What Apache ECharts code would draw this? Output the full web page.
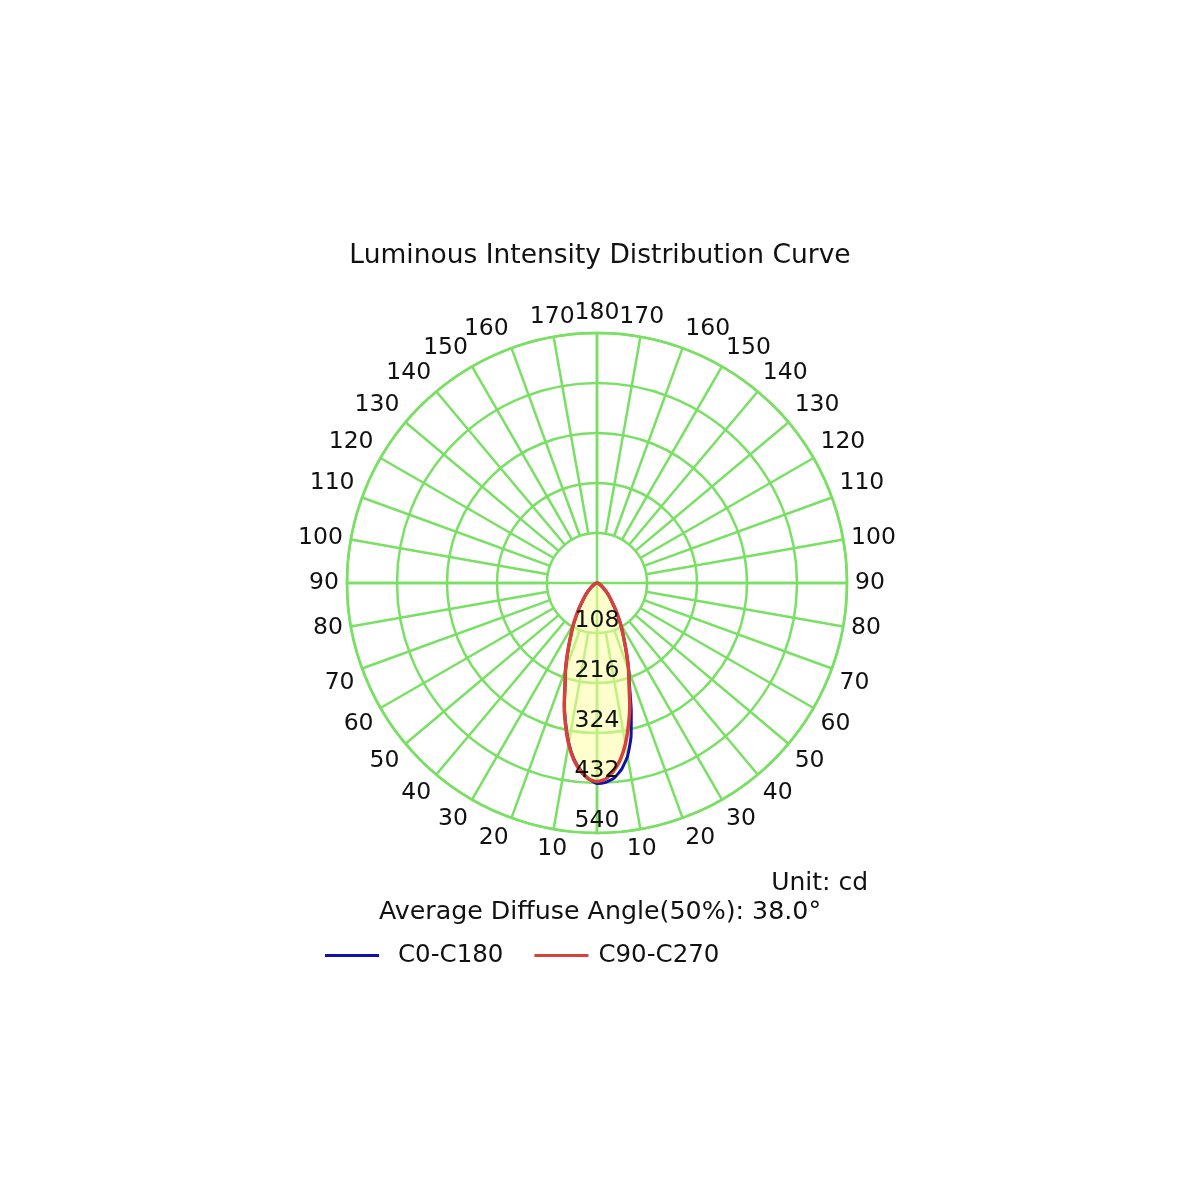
<!DOCTYPE html>
<html>
<head>
<meta charset="utf-8">
<script src="https://cdn.jsdelivr.net/npm/echarts@6/dist/echarts.min.js"></script>
<style>
html,body{margin:0;padding:0;background:#fff;}
#chart{width:1200px;height:1200px;}
</style>
</head>
<body>
<div id="chart"></div>
<script>
// Half-plane angles (degrees from nadir) and intensities (cd)
const halfAngles = [0, 2.5, 5, 7.5, 10, 12.5, 15, 17.5, 20, 22.5, 25, 27.5, 30, 35, 40, 45, 50, 55, 60, 65, 70, 75, 80, 85, 90];
const c0Values   = [433, 431, 423, 406, 380, 340, 286, 234, 200, 168, 141, 119, 101, 69, 46, 33, 21, 14, 9, 6, 4, 2, 1, 0, 0];
const c180Values = [433, 423, 406, 383, 351, 312, 272, 229, 198, 167, 140, 118, 100, 68, 45, 32, 21, 14, 9, 6, 4, 2, 1, 0, 0];
const c90Values  = [429, 424, 408, 385, 353, 314, 274, 230, 199, 168, 141, 119, 101, 69, 46, 33, 21, 14, 9, 6, 4, 2, 1, 0, 0];
const c270Values = [429, 424, 408, 385, 353, 314, 274, 230, 199, 168, 141, 119, 101, 69, 46, 33, 21, 14, 9, 6, 4, 2, 1, 0, 0];
const radiusTicks = [108, 216, 324, 432, 540];
const seriesNames = ['C0-C180', 'C90-C270'];
const titleText = 'Luminous Intensity Distribution Curve';
const unitText = 'Unit: cd';
const angleText = 'Average Diffuse Angle(50%): 38.0°';

const GRID = '#78e062';
const FONT = 'DejaVu Sans';

function buildCurve(rightVals, leftVals) {
  const pts = [];
  for (let i = halfAngles.length - 1; i >= 1; i--) pts.push([rightVals[i], 360 - halfAngles[i]]);
  pts.push([rightVals[0], 0]);
  for (let i = 1; i < halfAngles.length; i++) pts.push([leftVals[i], halfAngles[i]]);
  return pts;
}

const chart = echarts.init(document.getElementById('chart'));
const center = [597, 583];
const rMax = radiusTicks[radiusTicks.length - 1];
const rStep = radiusTicks[0];

chart.setOption({
  backgroundColor: '#fff',
  animation: false,
  textStyle: { fontFamily: FONT },
  title: [
    { text: titleText, left: 'center', top: 238, textStyle: { fontSize: 26.5, fontWeight: 'normal', color: '#111', fontFamily: FONT } },
    { text: unitText, right: 327, top: 866, textStyle: { fontSize: 25, fontWeight: 'normal', color: '#111', fontFamily: FONT } },
    { text: angleText, left: 'center', top: 895, textStyle: { fontSize: 25.3, fontWeight: 'normal', color: '#111', fontFamily: FONT } }
  ],
  legend: {
    data: [
      { name: seriesNames[0], textStyle: { padding: [0, 0, 0, 14] } },
      { name: seriesNames[1], textStyle: { padding: [0, 0, 0, 5] } }
    ],
    left: 320, top: 938,
    icon: 'rect', itemWidth: 54, itemHeight: 3, itemGap: 31,
    selectedMode: false,
    textStyle: { fontSize: 24.5, color: '#111', fontFamily: FONT }
  },
  polar: [
    { center: center, radius: [50, 250] },
    { center: center, radius: 250 }
  ],
  angleAxis: [
    {
      polarIndex: 0, type: 'value', min: 0, max: 360, interval: 10,
      startAngle: 270, clockwise: true,
      axisLine: { show: false }, axisTick: { show: false },
      splitLine: { show: true, lineStyle: { color: GRID, width: 2.5 } },
      axisLabel: {
        show: true, margin: 8, fontSize: 23.5, color: '#111', fontFamily: FONT,
        formatter: v => String(v <= 180 ? v : 360 - v)
      }
    },
    {
      polarIndex: 1, type: 'value', min: 0, max: 360, interval: 90,
      startAngle: 270, clockwise: true,
      axisLine: { show: true, lineStyle: { color: GRID, width: 2.5 } },
      axisTick: { show: false }, axisLabel: { show: false },
      splitLine: { show: true, lineStyle: { color: GRID, width: 2.5 } }
    }
  ],
  radiusAxis: [
    {
      polarIndex: 0, type: 'value', min: rStep, max: rMax, interval: rStep, z: 10,
      axisLine: { show: false }, axisTick: { show: false }, splitLine: { show: false },
      axisLabel: { show: true, margin: 0, align: 'center', verticalAlign: 'bottom', fontSize: 23.5, color: '#111', fontFamily: FONT }
    },
    {
      polarIndex: 1, type: 'value', min: 0, max: rMax, interval: rStep,
      axisLine: { show: false }, axisTick: { show: false }, axisLabel: { show: false },
      splitLine: { show: true, lineStyle: { color: GRID, width: 2.5 } }
    }
  ],
  series: [
    {
      name: seriesNames[0], type: 'line', coordinateSystem: 'polar', polarIndex: 1,
      data: buildCurve(c0Values, c180Values), smooth: 0.15, showSymbol: false,
      lineStyle: { color: '#1010b0', width: 3 }, itemStyle: { color: '#1010b0' },
      areaStyle: { color: 'rgba(255,255,160,0.75)' }
    },
    {
      name: seriesNames[1], type: 'line', coordinateSystem: 'polar', polarIndex: 1,
      data: buildCurve(c90Values, c270Values), smooth: 0.15, showSymbol: false,
      lineStyle: { color: '#d8403a', width: 3.5 }, itemStyle: { color: '#d8403a' }
    }
  ]
});
</script>
</body>
</html>
